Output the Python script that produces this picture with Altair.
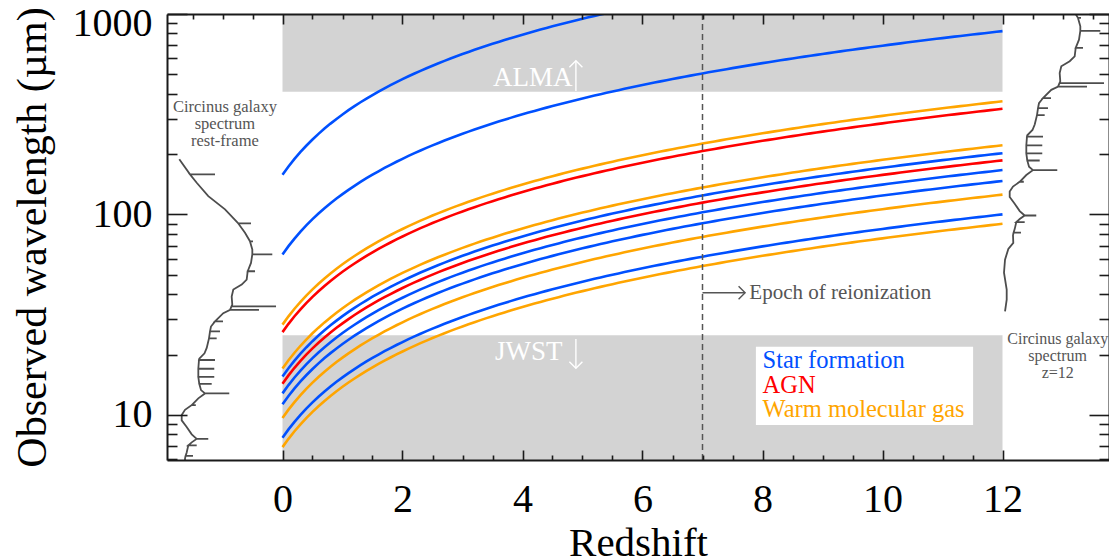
import altair as alt
import pandas as pd

FONT = "Liberation Serif"
INK = "#1a1a1a"

# ---------------- data ----------------
# spectral transitions (rest wavelength, micron)
line_names = ["H2 S(5)", "PAH 7.7", "H2 S(3)", "PAH 11.3", "[NeII]", "[NeV]",
              "[NeIII]", "H2 S(1)", "[OIV]", "H2 S(0)", "[OI]", "[CII]"]
line_rest = [6.91, 7.7, 9.66, 11.3, 12.81, 14.32, 15.55, 17.03, 25.89, 28.22, 63.18, 157.74]
line_group = ["Warm molecular gas", "Star formation", "Warm molecular gas", "Star formation",
              "Star formation", "AGN", "Star formation", "Warm molecular gas", "AGN",
              "Warm molecular gas", "Star formation", "Star formation"]
groups = ["Star formation", "AGN", "Warm molecular gas"]
group_colors = ["#0050FF", "#FF0000", "#FFA500"]

# Circinus galaxy spectrum (rest wavelength, arbitrary flux)
spec_wave = [188.4, 158.5, 158.5, 158.5, 144, 123.5, 106, 90.2, 90.2, 90.2, 81,
             73.5, 73.5, 73.5, 66.8, 63.3, 63.3, 63.3, 57.3, 52.1, 52.1, 52.1, 47.3,
             44.7, 42.2, 39.0, 35.5, 34.8, 34.8, 34.8, 33.4, 33.4, 33.4, 32.2,
             29.3, 29.3, 29.3, 27.6, 26.1, 26.1, 26.1, 24.1, 24.1, 24.1, 21.6, 20.3,
             19.1, 18.8, 18.8, 18.8, 17.0, 17.0, 17.0, 15.5, 15.5, 15.5, 14.3, 14.3, 14.3,
             13.3, 12.8, 12.8, 12.8, 12.1, 11.2, 11.2, 11.2, 10.6, 10.0, 9.4, 8.7, 8.0,
             7.6, 7.6, 7.6, 7.3, 7.05, 7.05, 7.05, 6.5, 6.25, 6.25, 6.25, 6.06, 5.55,
             5.18, 4.58, 3.94, 3.25, 2.89, 2.53]
spec_flux = [0.205, 0.383, 0.80, 0.383, 0.495, 0.688, 0.967, 1.188, 1.40, 1.188, 1.30,
             1.383, 1.433, 1.383, 1.422, 1.422, 1.755, 1.422, 1.40, 1.345, 1.467, 1.345, 1.328,
             1.245, 1.105, 1.078, 1.088, 1.075, 1.817, 1.075, 1.05, 1.533, 1.05, 0.938,
             0.80, 0.933, 0.80, 0.733, 0.717, 0.883, 0.717, 0.70, 0.828, 0.70, 0.662, 0.625,
             0.538, 0.533, 0.80, 0.533, 0.522, 0.788, 0.522, 0.522, 0.788, 0.522, 0.538, 0.745, 0.538,
             0.567, 0.633, 1.038, 0.633, 0.522, 0.412, 0.48, 0.412, 0.30, 0.245, 0.245, 0.328, 0.412,
             0.495, 0.688, 0.495, 0.412, 0.355, 0.495, 0.355, 0.328, 0.31, 0.433, 0.31, 0.30, 0.305,
             0.222, 0.167, 0.15, 0.195, 0.195, 0.167]
spec_z_shift = 12  # right-hand copy: spectrum redshifted to z=12

# instrument bands
band_names = ["ALMA", "JWST"]
band_z0 = [0, 0]
band_z1 = [12, 12]
band_lo = [410, 4]
band_hi = [1200, 25]

epoch_z = [7]

# axis ticks
x_major = [0, 2, 4, 6, 8, 10, 12]
x_minor_bottom = [0.5, 1, 1.5, 2.5, 3, 3.5, 4.5, 5, 5.5, 6.5, 7, 7.5, 8.5, 9, 9.5,
                  10.5, 11, 11.5]
x_minor_top = [-1.5, -1, -0.5] + x_minor_bottom + [12.5, 13, 13.5]
y_major = [10, 100, 1000]
y_minor = [6, 7, 8, 9, 20, 30, 40, 50, 60, 70, 80, 90, 200, 300, 400, 500, 600, 700, 800, 900]

# annotations
band_text = ["ALMA", "JWST"]
band_text_z = [3.51, 3.54]
band_text_w = [437, 18.84]

arrow_z0 = [4.89, 4.89, 7.0]
arrow_z1 = [4.89, 4.89, 7.71]
arrow_w0 = [413, 23.9, 40.7]
arrow_w1 = [584, 17.1, 40.7]
arrow_dir = ["up", "down", "right"]
arrow_col = ["white", "white", "#555555"]

epoch_text = ["Epoch of reionization"]
epoch_text_z = [7.78]
epoch_text_w = [40.7]

circ_text = [["Circinus galaxy", "spectrum", "rest-frame"],
             ["Circinus galaxy", "spectrum", "z=12"]]
circ_z = [-0.96, 12.92]
circ_w = [325, 22.6]
circ_size = [16.5, 16]

legend_box = {"z0": [7.89], "z1": [11.51], "lo": [8.9], "hi": [21.9]}
legend_z = [8.0, 8.0, 8.0]
legend_w = [17.1, 12.8, 9.8]

# ---------------- chart ----------------
W, H = 942, 446
XMIN, XMAX = -1.925, 13.775
XS = alt.Scale(domain=[XMIN, XMAX], nice=False, zero=False)
YS = alt.Scale(type="log", domain=[5.96, 1000], nice=False)


def tick_axis(orient, values, size, offset, domain=False):
    return alt.Axis(orient=orient, values=values, offset=offset, labels=False,
                    domain=domain, domainColor=INK, domainWidth=2, grid=False,
                    ticks=True, tickSize=size, tickWidth=1.6, tickColor=INK,
                    title=None, zindex=2)


x_main = alt.Axis(orient="bottom", values=x_major, format="d", ticks=False, grid=False,
                  domain=True, domainColor=INK, domainWidth=2,
                  labelFont=FONT, labelFontSize=40, labelColor="black", labelPadding=19,
                  title="Redshift", titleFont=FONT, titleFontSize=41, titleFontWeight="normal",
                  titleColor="black", titleBaseline="alphabetic", titleY=95, zindex=2)
y_main = alt.Axis(orient="left", values=y_major, format="d", ticks=False, grid=False,
                  domain=True, domainColor=INK, domainWidth=2,
                  labelFont=FONT, labelFontSize=40, labelColor="black", labelPadding=15,
                  labelFlush=True, labelFlushOffset=11,
                  title="Observed wavelength (µm)", titleFont=FONT, titleFontSize=42,
                  titleFontWeight="normal", titleColor="black", titleBaseline="alphabetic",
                  titleX=-122, titleY=H / 2, titleAngle=-90, zindex=2)

bands_df = pd.DataFrame({"name": band_names, "z0": band_z0, "z1": band_z1,
                         "lo": band_lo, "hi": band_hi})
bands = alt.Chart(bands_df).mark_rect(color="#D3D3D3", clip=True).encode(
    x=alt.X("z0:Q", scale=XS, axis=x_main), x2="z1:Q",
    y=alt.Y("lo:Q", scale=YS, axis=y_main), y2="hi:Q")

lines_df = pd.DataFrame({"name": line_names, "rest": line_rest, "group": line_group})
lines = alt.Chart(lines_df).transform_calculate(
    z="sequence(0, 12.05, 0.1)"
).transform_flatten(["z"]).transform_calculate(
    obs="datum.rest * (1 + datum.z)"
).mark_line(strokeWidth=2.6, clip=True).encode(
    x=alt.X("z:Q", scale=XS, axis=tick_axis("top", x_major, 10, -H)),
    y=alt.Y("obs:Q", scale=YS, axis=tick_axis("right", y_major, 20, -W)),
    color=alt.Color("group:N", scale=alt.Scale(domain=groups, range=group_colors), legend=None),
    detail="name:N", order="z:Q")

epoch = alt.Chart(pd.DataFrame({"z": epoch_z})).mark_rule(
    color="#555555", strokeWidth=1.5, strokeDash=[6, 4]).encode(
    x=alt.X("z:Q", scale=XS, axis=None))

spec_df = pd.DataFrame({"i": list(range(len(spec_wave))), "wave": spec_wave, "flux": spec_flux})
spec_left = alt.Chart(spec_df).transform_calculate(
    x=f"{XMIN} + datum.flux", w="datum.wave"
).mark_line(color="#4d4d4d", strokeWidth=1.8, clip=True).encode(
    x=alt.X("x:Q", scale=XS, axis=tick_axis("bottom", x_major, 10, -H, domain=True)),
    y=alt.Y("w:Q", scale=YS, axis=tick_axis("left", y_major, 20, -W, domain=True)),
    order="i:Q")
spec_right = alt.Chart(spec_df).transform_calculate(
    x=f"{XMIN} + 13.8 + datum.flux", w=f"datum.wave * (1 + {spec_z_shift})"
).mark_line(color="#4d4d4d", strokeWidth=1.8, clip=True).encode(
    x=alt.X("x:Q", scale=XS, axis=tick_axis("bottom", x_minor_top, 5, -H)),
    y=alt.Y("w:Q", scale=YS, axis=tick_axis("left", y_minor, 10, -W)),
    order="i:Q")

box = alt.Chart(pd.DataFrame(legend_box)).mark_rect(color="white").encode(
    x=alt.X("z0:Q", scale=XS, axis=tick_axis("top", x_minor_bottom, 5, -H)), x2="z1:Q",
    y=alt.Y("lo:Q", scale=YS, axis=tick_axis("right", y_minor, 10, -W)), y2="hi:Q")

legend_df = pd.DataFrame({"t": groups, "z": legend_z, "w": legend_w, "c": group_colors})
legend = alt.Chart(legend_df).mark_text(font=FONT, fontSize=24.5, align="left",
                                        baseline="alphabetic").encode(
    x=alt.X("z:Q", scale=XS, axis=None), y=alt.Y("w:Q", scale=YS, axis=None),
    text="t:N", color=alt.Color("c:N", scale=None))

band_lbl = alt.Chart(pd.DataFrame({"t": band_text, "z": band_text_z, "w": band_text_w})).mark_text(
    font=FONT, fontSize=27, align="left", baseline="alphabetic", color="white").encode(
    x=alt.X("z:Q", scale=XS, axis=None), y=alt.Y("w:Q", scale=YS, axis=None), text="t:N")

epoch_lbl = alt.Chart(pd.DataFrame({"t": epoch_text, "z": epoch_text_z, "w": epoch_text_w})).mark_text(
    font=FONT, fontSize=21, align="left", baseline="middle", color="#555555").encode(
    x=alt.X("z:Q", scale=XS, axis=None), y=alt.Y("w:Q", scale=YS, axis=None), text="t:N")

circ_lbl = alt.Chart(pd.DataFrame({"t": circ_text, "z": circ_z, "w": circ_w,
                                   "s": circ_size})).mark_text(
    font=FONT, align="center", baseline="alphabetic", color="#555555",
    lineHeight=17).encode(
    x=alt.X("z:Q", scale=XS, axis=None), y=alt.Y("w:Q", scale=YS, axis=None), text="t",
    size=alt.Size("s:Q", scale=None))

arrows_df = pd.DataFrame({"z0": arrow_z0, "z1": arrow_z1, "w0": arrow_w0, "w1": arrow_w1,
                          "dir": arrow_dir, "c": arrow_col})
arrow_shafts = alt.Chart(arrows_df).mark_rule(strokeWidth=1.4).encode(
    x=alt.X("z0:Q", scale=XS, axis=None), x2="z1:Q",
    y=alt.Y("w0:Q", scale=YS, axis=None), y2="w1:Q",
    color=alt.Color("c:N", scale=None))
arrow_heads = alt.Chart(arrows_df).mark_point(filled=False, strokeWidth=1.4, size=170,
                                              opacity=1).encode(
    x=alt.X("z1:Q", scale=XS, axis=None), y=alt.Y("w1:Q", scale=YS, axis=None),
    shape=alt.Shape("dir:N", scale=alt.Scale(domain=["up", "down", "right"],
                                             range=["M -1 1 L 0 0 L 1 1",
                                                    "M -1 -1 L 0 0 L 1 -1",
                                                    "M -1 -1 L 0 0 L -1 1"]), legend=None),
    color=alt.Color("c:N", scale=None))

chart = alt.layer(
    bands, lines, epoch, spec_left, spec_right, box, legend, band_lbl, epoch_lbl,
    circ_lbl, arrow_shafts, arrow_heads
).resolve_axis(x="independent", y="independent").properties(
    width=W, height=H,
    autosize=alt.AutoSizeParams(type="none"),
    padding={"left": 159, "top": 6, "right": 0, "bottom": 99},
    background="white",
).configure_view(stroke=None).configure_text(font=FONT)

chart.save("out.html", embed_options={"renderer": "svg", "actions": False})
